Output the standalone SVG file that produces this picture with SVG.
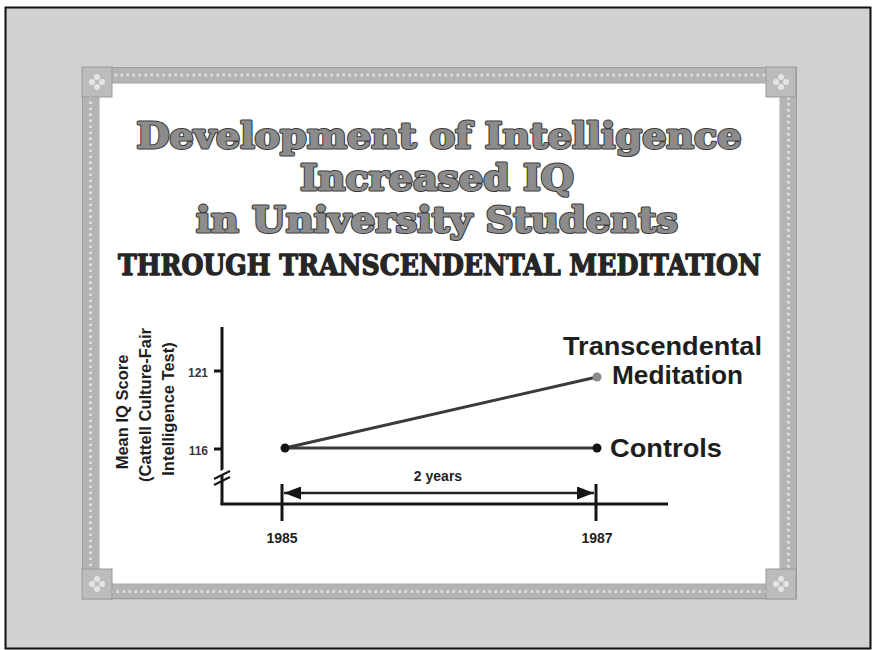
<svg xmlns="http://www.w3.org/2000/svg" width="873" height="650" viewBox="0 0 873 650">
<defs>
<style>
.title{font-family:"DejaVu Serif","Liberation Serif",serif;font-weight:bold;text-anchor:middle;font-size:36px}
.tback{fill:#3a3a3a;stroke:#3a3a3a;stroke-width:3;stroke-linejoin:round}
.tfront{fill:#8c8c8c;stroke:#8c8c8c;stroke-width:1;stroke-linejoin:round}
.sub{font-family:"DejaVu Serif","Liberation Serif",serif;font-weight:bold;fill:#262626;stroke:#262626;stroke-width:1.3;stroke-linejoin:round}
.lbl{font-family:"Liberation Sans",Arial,sans-serif;font-weight:bold;fill:#1e1e1e}
.tick{font-family:"Liberation Sans",Arial,sans-serif;font-weight:bold;fill:#3a3a3a;font-size:12px;text-anchor:end}
.yr{font-family:"Liberation Sans",Arial,sans-serif;font-weight:bold;fill:#1e1e1e;font-size:14px;text-anchor:middle}
.ax{stroke:#151515;stroke-width:3;fill:none}
.corner{fill:#bcbcbc;stroke:#999;stroke-width:1}
.dot{fill:#e4e4e4}
</style>
<marker id="ah" viewBox="0 0 17 13" refX="17" refY="6.5" markerWidth="17" markerHeight="13" markerUnits="userSpaceOnUse" orient="auto-start-reverse">
<path d="M0,0 L17,6.5 L0,13 Z" fill="#151515"/>
</marker>
<g id="flower">
<rect class="corner" x="0" y="0" width="30" height="30"/>
<circle class="dot" cx="15" cy="10" r="3"/>
<circle class="dot" cx="15" cy="20" r="3"/>
<circle class="dot" cx="10" cy="15" r="3"/>
<circle class="dot" cx="20" cy="15" r="3"/>
</g>
</defs>

<g id="background">
<rect x="0" y="0" width="873" height="650" fill="#ffffff"/>
<rect x="5.5" y="7.5" width="865" height="641" fill="#d1d1d1" stroke="#111" stroke-width="2"/>
<rect x="90.5" y="75" width="698" height="516.5" fill="none" stroke="#b4b4b4" stroke-width="16"/>
<rect x="90.5" y="75" width="698" height="516.5" fill="none" stroke="#dedede" stroke-width="3" stroke-dasharray="2.5 3.5"/>
<rect x="82.5" y="67.5" width="714" height="531" fill="none" stroke="#9c9c9c" stroke-width="1"/>
<rect x="99" y="83" width="681" height="501" fill="#ffffff" stroke="#a8a8a8" stroke-width="1"/>
<use href="#flower" x="82" y="67"/>
<use href="#flower" x="766" y="67"/>
<use href="#flower" x="82" y="569"/>
<use href="#flower" x="766" y="569"/>
</g>

<g id="title">
<g class="title tback">
<text x="439" y="148" textLength="605" lengthAdjust="spacingAndGlyphs">Development of Intelligence</text>
<text x="437" y="190" textLength="274" lengthAdjust="spacingAndGlyphs">Increased IQ</text>
<text x="437" y="232" textLength="482" lengthAdjust="spacingAndGlyphs">in University Students</text>
</g>
<g class="title tfront">
<text x="439" y="148" textLength="605" lengthAdjust="spacingAndGlyphs">Development of Intelligence</text>
<text x="437" y="190" textLength="274" lengthAdjust="spacingAndGlyphs">Increased IQ</text>
<text x="437" y="232" textLength="482" lengthAdjust="spacingAndGlyphs">in University Students</text>
</g>
<text class="sub" x="118" y="275" font-size="27" textLength="643" lengthAdjust="spacingAndGlyphs">THROUGH TRANSCENDENTAL MEDITATION</text>
</g>

<g id="y-axis-label">
<text class="lbl" font-size="16.5" text-anchor="middle" transform="translate(128,412) rotate(-90)">Mean IQ Score</text>
<text class="lbl" font-size="16.5" text-anchor="middle" transform="translate(151,405) rotate(-90)">(Cattell Culture-Fair</text>
<text class="lbl" font-size="16.5" text-anchor="middle" transform="translate(174,409) rotate(-90)">Intelligence Test)</text>
</g>

<g id="axes">
<line class="ax" x1="222" y1="327" x2="222" y2="505"/>
<line class="ax" x1="220.5" y1="504" x2="668" y2="504"/>
<line class="ax" x1="214" y1="371" x2="222" y2="371" stroke-width="2"/>
<line class="ax" x1="214" y1="449" x2="222" y2="449" stroke-width="2"/>
<line x1="214" y1="477" x2="230" y2="469" stroke="#ffffff" stroke-width="5"/>
<line x1="214" y1="479" x2="230" y2="471" stroke="#151515" stroke-width="2"/>
<line x1="214" y1="485" x2="230" y2="477" stroke="#151515" stroke-width="2"/>
<line class="ax" x1="282" y1="484" x2="282" y2="521"/>
<line class="ax" x1="596" y1="484" x2="596" y2="521"/>
<text class="tick" x="208" y="377">121</text>
<text class="tick" x="208" y="455">116</text>
<text class="yr" x="282" y="543">1985</text>
<text class="yr" x="597" y="543">1987</text>
</g>

<g id="connectors">
<line x1="285" y1="448" x2="597" y2="377" stroke="#3a3a3a" stroke-width="3"/>
<line x1="285" y1="448" x2="597" y2="448" stroke="#3a3a3a" stroke-width="3"/>
<line x1="284" y1="493" x2="594" y2="493" stroke="#222" stroke-width="2.5" marker-start="url(#ah)" marker-end="url(#ah)"/>
</g>

<g id="points">
<circle cx="285" cy="448" r="4.5" fill="#151515"/>
<circle cx="597" cy="377" r="4.5" fill="#8a8a8a"/>
<circle cx="597" cy="448" r="4.5" fill="#151515"/>
</g>

<g id="series-labels">
<text class="lbl" x="563" y="355" font-size="25" textLength="199" lengthAdjust="spacingAndGlyphs">Transcendental</text>
<text class="lbl" x="612" y="384" font-size="25" fill="#333" textLength="131" lengthAdjust="spacingAndGlyphs">Meditation</text>
<text class="lbl" x="610" y="457" font-size="26" textLength="112" lengthAdjust="spacingAndGlyphs">Controls</text>
<text class="yr" x="438" y="481">2 years</text>
</g>
</svg>
